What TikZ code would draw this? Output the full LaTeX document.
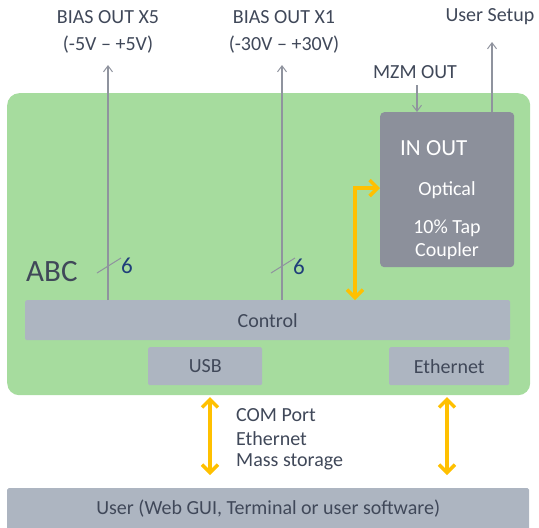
\documentclass[tikz,border=0pt]{standalone}
\usepackage{fontspec}
\setmainfont{Carlito}
\usetikzlibrary{arrows.meta}
\definecolor{grn}{HTML}{A6DC9E}
\definecolor{bar}{HTML}{ADB5C1}
\definecolor{dbox}{HTML}{8C909B}
\definecolor{txt}{HTML}{404859}
\definecolor{org}{HTML}{FFC000}
\definecolor{ln}{HTML}{8F939E}
\definecolor{num}{HTML}{1F3E7A}
\tikzset{
  barbox/.style={fill=bar, draw=none, rounded corners=1.5pt, inner sep=0pt},
  lbl/.style={text=txt, font=\fontsize{20}{24}\selectfont, inner sep=0pt},
  wlbl/.style={text=white, font=\fontsize{20}{24}\selectfont, inner sep=0pt},
  garrow/.style={draw=ln, line width=1.2pt, -{Straight Barb[length=6pt,width=9pt,line width=1pt]}},
  gline/.style={draw=ln, line width=1.2pt},
  oarrow/.style={draw=org, line width=3.6pt, {Straight Barb[length=8pt,width=16pt,line width=3.4pt]}-{Straight Barb[length=8pt,width=16pt,line width=3.4pt]}},
  tick/.style={draw=ln, line width=1pt}
}
\begin{document}
\begin{tikzpicture}[x=1pt,y=-1pt]
\useasboundingbox (0,0) rectangle (539,528);
% green body
\node[fill=grn, rounded corners=12pt, minimum width=523pt, minimum height=302pt, inner sep=0pt, anchor=north west] (abc) at (7,93) {};
% bars
\node[barbox, minimum width=485pt, minimum height=40pt, anchor=north west] (ctrl) at (25,300) {};
\node[lbl] at (ctrl.center) {Control};
\node[barbox, minimum width=114pt, minimum height=38pt, anchor=north west] (usb) at (148,347) {};
\node[lbl] at (usb.center) {USB};
\node[barbox, minimum width=120pt, minimum height=38pt, anchor=north west] (eth) at (389,347) {};
\node[lbl] at (eth.center) {Ethernet};
\node[barbox, minimum width=522pt, minimum height=42pt, anchor=north west] (user) at (7,488) {};
\node[lbl] at ([yshift=1pt]user.center) {User (Web GUI, Terminal or user software)};
% optical box
\node[fill=dbox, rounded corners=4pt, minimum width=134pt, minimum height=155pt, inner sep=0pt, anchor=north west] (opt) at (380,112) {};
\node[wlbl, font=\fontsize{23}{27}\selectfont, anchor=west] (inout) at (400,148) {IN OUT};
\node[wlbl] (optl) at (447,190) {Optical};
\node[wlbl] (tap) at (447,228) {10\% Tap};
\node[wlbl] (coup) at (447,251) {Coupler};
% ABC label
\node[text=txt, font=\fontsize{31}{36}\selectfont, inner sep=0pt, anchor=west] (abcl) at (26,272) {ABC};
% top labels
\node[lbl] (b5a) at (108,17) {BIAS OUT X5};
\node[lbl] (b5b) at (108,45) {(-5V – +5V)};
\node[lbl] (b1a) at (284,17) {BIAS OUT X1};
\node[lbl] (b1b) at (284,45) {(-30V – +30V)};
\node[lbl] (us) at (490,17) {User Setup};
\node[lbl] (mzm) at (415,72) {MZM OUT};
% bias arrows
\coordinate (b5top) at (108,65);
\coordinate (b1top) at (282,65);
\draw[garrow] (108,300) -- (b5top);
\draw[garrow] (282,300) -- (b1top);
\draw[tick] (97,273) -- (121,258);
\draw[tick] (271,273) -- (295,258);
\node[text=num, font=\fontsize{23}{27}\selectfont, inner sep=0pt] (n1) at (127,266) {6};
\node[text=num, font=\fontsize{23}{27}\selectfont, inner sep=0pt] (n2) at (299,267) {6};
% user setup & mzm
\coordinate (ustop) at (492,42);
\draw[garrow] (opt.north -| ustop) -- (ustop);
\coordinate (mzmtop) at (417,85);
\draw[garrow] (mzmtop) -- (opt.north -| mzmtop);
% orange arrows
\draw[oarrow] (ctrl.north -| 355,0) -- (355,188) -- (opt.west |- 0,188);
\draw[oarrow] (210,397) -- (210,475);
\draw[oarrow] (447,397) -- (447,475);
\node[lbl, anchor=west] (com) at (236,415) {COM Port};
\node[lbl, anchor=west] (ethl) at (236,439) {Ethernet};
\node[lbl, anchor=west] (mass) at (236,462) {Mass storage};
\end{tikzpicture}
\end{document}
